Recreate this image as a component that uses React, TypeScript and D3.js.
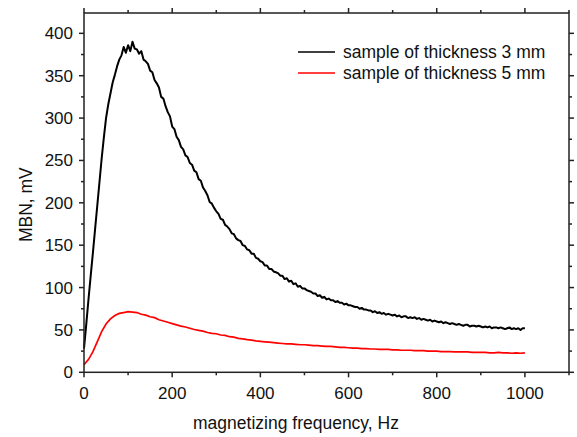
import React from "react";
import * as d3 from "d3";

const blackFreq: number[] = d3.range(0, 1001, 5);
const blackValues: number[] = [
  28, 56, 85, 113, 140, 168, 196, 224, 252, 277, 300, 316, 329, 342, 351, 361, 369, 374, 384, 377,
  386, 379, 390, 382, 381, 376, 379, 369, 367, 364, 356, 354, 345, 341, 336, 325, 323, 314, 307, 302,
  290, 287, 278, 274, 266, 263, 256, 254, 247, 245, 238, 236, 228, 226, 218, 214, 209, 201, 199, 194,
  190, 187, 181, 180, 174, 172, 169, 164, 163, 158, 156, 155, 150, 149, 145, 144, 140, 140, 135, 134,
  131, 130, 126, 126, 122, 122, 119, 118, 117, 114, 114, 110, 111, 107, 108, 104, 105, 101, 102, 99,
  99, 97, 96, 95, 93, 93, 90, 91, 88, 89, 86, 87, 85, 85, 83, 84, 82, 82, 80, 81,
  79, 79, 78, 77, 77, 75, 76, 74, 74, 73, 73, 71, 72, 70, 71, 69, 70, 68, 69, 68,
  67, 68, 66, 67, 65, 66, 66, 64, 65, 64, 65, 63, 64, 62, 63, 62, 61, 62, 60, 61,
  60, 59, 60, 58, 59, 58, 57, 58, 57, 56, 57, 56, 55, 56, 56, 54, 55, 55, 54, 55,
  54, 53, 54, 53, 54, 52, 53, 53, 52, 53, 52, 51, 52, 53, 51, 52, 51, 52, 50, 52,
  52,
];

const redFreq: number[] = d3.range(0, 1001, 10);
const redValues: number[] = [
  9, 15, 24, 36, 48, 57, 63, 67, 69.5, 70.5, 71.5, 71, 70.5, 68.5, 67.5, 65.5, 64.5, 62, 60.5, 59,
  57.5, 56, 54.5, 53.5, 52, 50.5, 49.5, 48.5, 47, 46, 45.5, 44, 43.5, 42, 41.5, 40, 39.5, 38.5, 38, 37,
  36.5, 36, 35.5, 35, 34.5, 34, 33.5, 33.5, 33, 32.5, 32.5, 32, 31.5, 31.5, 31, 30.5, 30.5, 30, 29.5, 29.5,
  29, 28.5, 28.5, 28, 28, 27.5, 27.5, 27, 27, 27, 26.5, 26.5, 26, 26, 26, 25.5, 25.5, 25.5, 25, 25,
  25, 24.5, 24.5, 24.5, 24, 24, 24, 24, 23.5, 23.5, 23.5, 23.5, 23, 23, 23.5, 23, 23, 22.5, 23, 22.5,
  23,
];

const xMajorTicks = [0, 200, 400, 600, 800, 1000];
const yMajorTicks = [0, 50, 100, 150, 200, 250, 300, 350, 400];
const seriesLabels = ["sample of thickness 3 mm", "sample of thickness 5 mm"];
const seriesColors = ["#000000", "#ff0000"];

export default function App() {
  const W = 577, H = 437;
  const L = 84, R = 569, T = 13, B = 372.3;
  const x = d3.scaleLinear().domain([0, 1100]).range([L, R]);
  const y = d3.scaleLinear().domain([0, 424]).range([B, T]);
  const xMinor = d3.range(0, 1101, 100);
  const yMinor = d3.range(0, 425, 25);
  const line = d3.line<[number, number]>().x(d => x(d[0])).y(d => y(d[1]));
  const blackPts: [number, number][] = blackFreq.map((f, i) => [f, blackValues[i]]);
  const redPts: [number, number][] = redFreq.map((f, i) => [f, redValues[i]]);
  const font = "'Liberation Sans', Arial, sans-serif";
  const axisColor = "#222";
  const maj = 5, min = 3;
  return (
    <svg width={W} height={H} style={{ position: "absolute", left: 0, top: 0 }} fontFamily={font}>
      <rect x={0} y={0} width={W} height={H} fill="#fff" />
      <path d={line(redPts) || ""} fill="none" stroke={seriesColors[1]} strokeWidth={1.7} />
      <path d={line(blackPts) || ""} fill="none" stroke={seriesColors[0]} strokeWidth={2} strokeLinejoin="round" />
      <rect x={L} y={T} width={R - L} height={B - T} fill="none" stroke={axisColor} strokeWidth={1.5} />
      {xMinor.map(v => {
        const isMaj = v % 200 === 0;
        const len = isMaj ? maj : min;
        return (
          <g key={"xt" + v}>
            <line x1={x(v)} x2={x(v)} y1={B} y2={B + len} stroke={axisColor} strokeWidth={1.5} />
            <line x1={x(v)} x2={x(v)} y1={T} y2={T - len} stroke={axisColor} strokeWidth={1.5} />
          </g>
        );
      })}
      {yMinor.map(v => {
        const isMaj = v % 50 === 0;
        const len = isMaj ? maj : min;
        return (
          <g key={"yt" + v}>
            <line x1={L} x2={L - len} y1={y(v)} y2={y(v)} stroke={axisColor} strokeWidth={1.5} />
            <line x1={R} x2={R + len} y1={y(v)} y2={y(v)} stroke={axisColor} strokeWidth={1.5} />
          </g>
        );
      })}
      {xMajorTicks.map(v => (
        <text key={"xl" + v} x={x(v)} y={399} textAnchor="middle" fontSize={17} fill="#111">{v}</text>
      ))}
      {yMajorTicks.map(v => (
        <text key={"yl" + v} x={73} y={y(v) + 6} textAnchor="end" fontSize={17} fill="#111">{v}</text>
      ))}
      <text x={296} y={429} textAnchor="middle" fontSize={17.5} fill="#111">magnetizing frequency, Hz</text>
      <text transform={`translate(32,${(T + B) / 2 + 12}) rotate(-90)`} textAnchor="middle" fontSize={17.5} fill="#111">MBN, mV</text>
      {seriesLabels.map((s, i) => (
        <g key={s}>
          <line x1={298} x2={335} y1={52 + i * 21} y2={52 + i * 21} stroke={seriesColors[i]} strokeWidth={1.7} />
          <text x={343} y={52 + i * 21 + 6} fontSize={17.5} fill="#111">{s}</text>
        </g>
      ))}
    </svg>
  );
}
